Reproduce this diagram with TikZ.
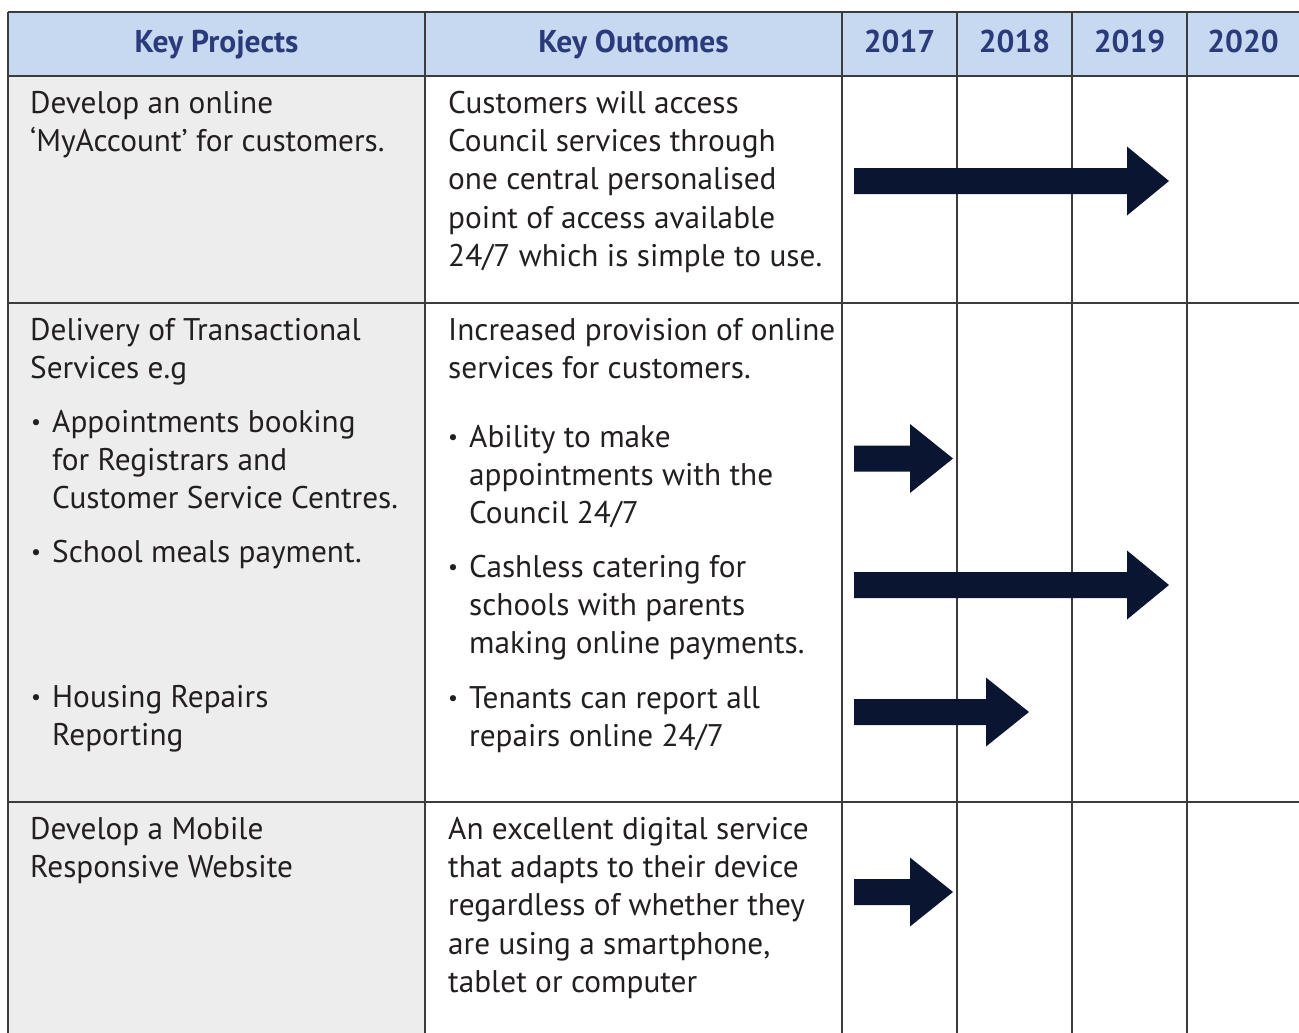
\documentclass[tikz,border=0pt]{standalone}
\usepackage{fontspec}
\setmainfont{PT Sans}
\definecolor{hdrfill}{HTML}{C6D9F0}
\definecolor{hdrtext}{HTML}{2B3A7A}
\definecolor{grayfill}{HTML}{EDEDED}
\definecolor{bodytext}{HTML}{231F20}
\definecolor{gridline}{HTML}{3C3C3C}
\definecolor{arrowfill}{HTML}{0A1631}
\newcommand\hlarrow[4]{% center y, base x, tip x, start x
  \fill[arrowfill] (#4,{#1-13}) -- (#2,{#1-13}) -- (#2,{#1-34.5}) -- (#3,#1) -- (#2,{#1+34.5}) -- (#2,{#1+13}) -- (#4,{#1+13}) -- cycle;}
\newcommand\smallbullet{\strut{\fontsize{22}{22}\selectfont\raisebox{2.5pt}{•}}}
\begin{document}
\begin{tikzpicture}[x=1pt,y=-1pt,
  gridln/.style={draw=gridline,line width=1.5pt},
  body/.style={anchor=north west,inner sep=0pt,align=left,text=bodytext,
    font=\fontsize{31.3}{38.3}\selectfont},
  head/.style={anchor=base,inner sep=0pt,text=hdrtext,
    font=\fontsize{31.5}{36}\selectfont\bfseries}]
\useasboundingbox (0,0) rectangle (1299,1033);
% fills
\fill[hdrfill] (8,12) rectangle (1299,76);
\fill[grayfill] (8,76) rectangle (425,1033);
% grid
\foreach \yy in {12,76,303,802} \draw[gridln] (8,\yy) -- (1299,\yy);
\foreach \xx in {8,425,842,957,1072,1187} \draw[gridln] (\xx,12) -- (\xx,1033);
% headers
\node[head] (hproj) at (216.5,53) {Key Projects};
\node[head] (hout) at (633.5,53) {Key Outcomes};
\node[head] (h17) at (899.5,53) {2017};
\node[head] (h18) at (1014.5,53) {2018};
\node[head] (h19) at (1129.5,53) {2019};
\node[head] (h20) at (1243,53) {2020};
% row 1
\node[body] (p1) at (30,86.2) {\strut Develop an online\\‘MyAccount’ for customers.};
\node[body] (o1) at (448,86.2) {\strut Customers will access\\Council services through\\one central personalised\\point of access available\\24/7 which is simple to use.};
% row 2
\node[body] (p2) at (30,313.2) {\strut Delivery of Transactional\\Services e.g};
\node[body] (p2b1) at (31,405.2) {\smallbullet};
\node[body] (p2a) at (52,405.2) {\strut Appointments booking\\for Registrars and\\Customer Service Centres.};
\node[body] (p2b2) at (31,535.2) {\smallbullet};
\node[body] (p2s) at (52,535.2) {\strut School meals payment.};
\node[body] (p2b3) at (31,680.2) {\smallbullet};
\node[body] (p2h) at (52,680.2) {\strut Housing Repairs\\Reporting};
\node[body] (o2) at (448,313.2) {\strut Increased provision of online\\services for customers.};
\node[body] (o2b1) at (448,420.2) {\smallbullet};
\node[body] (o2a) at (469,420.2) {\strut Ability to make\\appointments with the\\Council 24/7};
\node[body] (o2b2) at (448,550.2) {\smallbullet};
\node[body] (o2s) at (469,550.2) {\strut Cashless catering for\\schools with parents\\making online payments.};
\node[body] (o2b3) at (448,681.2) {\smallbullet};
\node[body] (o2h) at (469,681.2) {\strut Tenants can report all\\repairs online 24/7};
% row 3
\node[body] (p3) at (30,812.2) {\strut Develop a Mobile\\Responsive Website};
\node[body] (o3) at (448,812.2) {\strut An excellent digital service\\that adapts to their device\\regardless of whether they\\are using a smartphone,\\tablet or computer};
% arrows
\hlarrow{181}{1127}{1169}{854}
\hlarrow{458.5}{910}{953}{854}
\hlarrow{585}{1127}{1169}{854}
\hlarrow{712}{986}{1029}{854}
\hlarrow{892}{910}{953}{854}
\end{tikzpicture}
\end{document}
